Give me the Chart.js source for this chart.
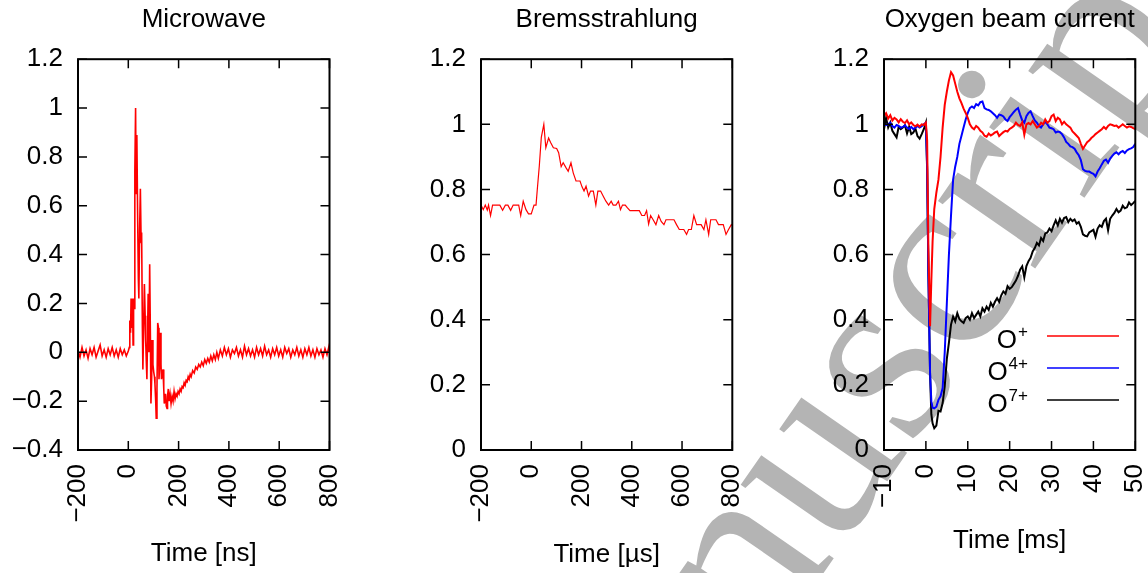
<!DOCTYPE html>
<html>
<head>
<meta charset="utf-8">
<script src="https://cdn.jsdelivr.net/npm/chart.js@4.4.1/dist/chart.umd.min.js"></script>
<style>
  html, body { margin: 0; padding: 0; overflow: hidden; background: #fff; }
  body { position: relative; width: 1148px; height: 573px; }
  canvas { position: absolute; top: 0; }
  #wm {
    position: absolute; left: -204px; top: 1673px;
    transform-origin: 0 0; transform: rotate(-55.2deg);
    font: 258px/1 "Liberation Serif", serif; color: #b4b4b4; white-space: nowrap;
  }
</style>
</head>
<body>
<div id="wm">Accepted Manuscript</div>
<canvas id="mw" width="383" height="573" style="left:0"></canvas>
<canvas id="br" width="383" height="573" style="left:400px"></canvas>
<canvas id="ox" width="348" height="573" style="left:800px"></canvas>
<script>
// Microwave signal (time in ns)
const mwTime = [
  -200,-192,-184,-176,-168,-160,-152,-144,-136,-128,-120,-112,-104,-96,-88,-80,-72,-64,-56,-48,-40,-32,-24,-16,-8,0,
  4,6,9,11,14,17,19,21,24,26,29,31,34,37,40,42,45,48,51,53,56,58,61,64,67,69,72,74,77,79,
  82,85,88,90,93,95,98,101,104,106,109,111,114,117,120,122,125,127,130,132,135,138,141,143,146,148,151,154,156,159,
  162,166,170,174,178,182,186,190,194,198,202,206,210,214,218,222,226,230,234,238,242,246,250,
  256,262,268,274,280,286,292,298,304,310,316,322,328,334,340,346,352,358,
  366,374,382,390,398,406,414,422,430,438,446,454,462,470,478,486,494,502,510,518,
  526,534,542,550,558,566,574,582,590,598,606,614,622,630,638,646,654,662,670,678,
  686,694,702,710,718,726,734,742,750,758,766,774,782,790,798,800
];
const mwValue = [
  0.01,-0.02,0.02,-0.015,0.01,-0.025,0.015,-0.01,0.02,-0.02,0.005,0.03,-0.015,0.01,-0.02,0.015,-0.01,0.02,-0.015,0.01,-0.02,0.015,-0.01,0.01,-0.015,0.005,
  0.02,0.13,0.08,0.22,0.1,0.22,0.03,0.22,0.18,0.74,1.0,0.65,0.89,0.57,0.3,0.22,0.5,0.67,0.45,0.49,0.1,-0.07,0.1,0.28,0.15,0.05,-0.05,-0.11,0.1,0.24,
  0.0,0.36,0.05,-0.21,-0.1,0.05,-0.05,-0.08,-0.1,-0.13,-0.2,-0.27,-0.15,0.12,0.1,-0.11,-0.05,0.08,-0.05,-0.11,-0.09,-0.07,-0.15,-0.21,-0.19,-0.17,-0.22,-0.23,-0.18,-0.15,
  -0.2,-0.17,-0.21,-0.18,-0.2,-0.16,-0.19,-0.17,-0.18,-0.16,-0.17,-0.15,-0.16,-0.14,-0.145,-0.125,-0.135,-0.115,-0.12,-0.1,-0.11,-0.09,-0.1,
  -0.075,-0.085,-0.06,-0.07,-0.05,-0.06,-0.04,-0.055,-0.03,-0.045,-0.025,-0.04,-0.015,-0.035,-0.01,-0.03,0.0,-0.025,
  0.01,-0.015,0.02,-0.01,0.015,-0.02,0.01,-0.005,0.02,-0.015,0.01,-0.02,0.025,-0.01,0.015,-0.015,0.01,-0.02,0.02,-0.01,
  0.015,-0.015,0.025,-0.01,0.01,-0.02,0.015,-0.01,0.02,-0.015,0.01,-0.02,0.02,-0.005,0.015,-0.02,0.01,-0.01,0.02,-0.015,
  0.01,-0.02,0.015,-0.01,0.02,-0.015,0.01,-0.02,0.015,-0.01,0.01,-0.02,0.015,-0.01,0.025,0.005
];

// Bremsstrahlung (time in µs)
const brTime = [
  -200,-191,-183,-175,-170,-162,-154,-125,-114,-103,-93,-82,-72,-50,-42,-32,-21,-11,0,11,
  19,24,32,40,50,58,69,77,88,101,109,119,127,138,147,158,167,178,194,202,
  210,218,228,236,247,257,265,276,286,297,308,318,326,337,347,355,363,374,382,393,
  406,419,430,440,451,459,467,475,485,496,507,517,528,536,546,568,578,589,607,618,
  626,637,647,658,676,687,695,706,714,735,745,764,775,785,796,800
];
const brValue = [
  0.752,0.738,0.752,0.737,0.752,0.72,0.752,0.752,0.736,0.752,0.752,0.736,0.752,0.752,0.72,0.764,0.738,0.725,0.725,0.752,
  0.752,0.8,0.872,0.96,1.0,0.928,0.958,0.944,0.928,0.926,0.913,0.87,0.882,0.867,0.856,0.882,0.851,0.826,0.826,0.808,
  0.795,0.81,0.78,0.795,0.795,0.752,0.795,0.795,0.78,0.764,0.752,0.764,0.752,0.752,0.764,0.738,0.752,0.752,0.744,0.735,
  0.735,0.735,0.735,0.72,0.72,0.735,0.694,0.72,0.707,0.692,0.72,0.702,0.692,0.707,0.707,0.707,0.692,0.677,0.677,0.662,
  0.677,0.677,0.72,0.692,0.692,0.677,0.707,0.662,0.707,0.707,0.692,0.692,0.662,0.677,0.692,0.69
];

// Oxygen beam current (time in ms)
const oxTime = [
  -10,-9.5,-9,-8.5,-8,-7.5,-7,-6.5,-6,-5.5,-5,-4.5,-4,-3.5,-3,-2.5,-2,-1.5,-1,-0.5,0,
  0.3,0.6,1,1.3,1.6,2,2.5,3,3.5,4,4.5,5,5.5,6,6.5,7,7.5,8,8.5,9,9.5,10,
  10.5,11,11.5,12,12.5,13,13.5,14,14.5,15,15.5,16,16.5,17,17.5,18,18.5,19,19.5,20,
  20.5,21,21.5,22,22.5,23,23.5,24,24.5,25,25.5,26,26.5,27,27.5,28,28.5,29,29.5,30,
  30.5,31,31.5,32,32.5,33,33.5,34,34.5,35,35.5,36,36.5,37,37.5,38,38.5,39,39.5,40,
  40.5,41,41.5,42,42.5,43,43.5,44,44.5,45,45.5,46,46.5,47,47.5,48,48.5,49,49.5,50
];
const oxPlus = [
  1.026,1.034,1.018,1.028,1.012,1.02,1.015,1.006,1.016,1.008,1.004,1.012,1.0,1.006,0.998,0.994,0.999,0.993,1.0,0.998,1.005,
  0.95,0.62,0.38,0.52,0.64,0.74,0.79,0.83,0.9,0.99,1.06,1.1,1.135,1.16,1.15,1.125,1.1,1.08,1.065,1.048,1.035,1.02,
  1.0,0.99,0.985,0.995,0.99,0.98,0.975,0.965,0.962,0.972,0.966,0.97,0.975,0.978,0.964,0.97,0.976,0.98,0.978,0.986,
  0.99,0.995,1.005,0.998,0.995,1.006,0.968,1.0,1.004,1.0,1.01,1.0,0.99,0.995,1.005,1.0,1.015,1.005,1.01,1.025,
  1.03,1.01,1.02,1.015,1.0,1.008,1.0,0.995,0.99,0.978,0.972,0.965,0.958,0.94,0.925,0.935,0.945,0.95,0.958,0.963,
  0.97,0.975,0.98,0.985,0.992,0.986,0.995,1.0,0.998,0.995,0.996,0.99,0.995,1.0,0.995,0.99,0.994,0.992,0.988,0.985
];
const ox4Plus = [
  1.0,0.998,1.0,1.005,0.995,0.99,0.998,0.995,0.99,0.992,0.997,0.99,0.986,0.992,0.985,0.99,0.995,0.99,0.994,1.0,1.005,
  0.87,0.54,0.236,0.15,0.13,0.128,0.133,0.154,0.165,0.19,0.3,0.45,0.6,0.72,0.83,0.87,0.9,0.94,0.965,0.99,1.015,1.035,
  1.05,1.055,1.05,1.062,1.058,1.068,1.07,1.05,1.046,1.044,1.04,1.034,1.028,1.02,1.03,1.028,1.024,1.015,1.01,1.022,
  1.03,1.038,1.045,1.05,1.03,1.012,1.005,1.025,1.035,1.04,1.025,1.012,1.005,0.995,0.99,1.0,1.008,1.0,0.99,0.988,
  0.985,0.975,0.978,0.976,0.97,0.96,0.946,0.94,0.932,0.93,0.925,0.914,0.905,0.89,0.862,0.857,0.855,0.855,0.851,0.848,
  0.84,0.855,0.865,0.877,0.888,0.892,0.882,0.895,0.903,0.91,0.914,0.908,0.915,0.918,0.912,0.92,0.924,0.926,0.93,0.94
];
const ox7Plus = [
  0.985,1.02,0.99,1.005,0.98,0.97,0.96,0.992,0.985,0.99,0.997,0.972,0.992,0.97,0.975,0.987,0.964,0.956,0.97,0.985,1.005,
  0.86,0.54,0.23,0.11,0.082,0.067,0.075,0.12,0.118,0.144,0.195,0.28,0.33,0.385,0.41,0.395,0.42,0.402,0.395,0.39,0.405,0.41,
  0.4,0.42,0.405,0.415,0.425,0.41,0.435,0.425,0.44,0.43,0.452,0.44,0.455,0.466,0.455,0.475,0.487,0.48,0.503,0.495,
  0.5,0.51,0.52,0.535,0.554,0.564,0.53,0.565,0.58,0.59,0.61,0.62,0.636,0.628,0.651,0.642,0.665,0.668,0.68,0.672,
  0.69,0.705,0.69,0.71,0.698,0.712,0.715,0.7,0.71,0.703,0.708,0.695,0.7,0.685,0.662,0.658,0.656,0.668,0.672,0.676,
  0.655,0.68,0.69,0.685,0.703,0.71,0.675,0.71,0.72,0.728,0.74,0.73,0.735,0.75,0.742,0.745,0.76,0.752,0.758,0.765
];

const ionBase = 'O';
const ionCharges = ['+', '4+', '7+'];
const ionColors = ['#ff0000', '#0000ff', '#000000'];

const FONT = '"Liberation Sans", Arial, sans-serif';
const minus = s => String(s).replace('-', '\u2212');
const pts = (xs, ys) => xs.map((x, i) => ({ x: x, y: ys[i] }));

// gnuplot-style frame with inward ticks on all four sides
const frameTicks = {
  id: 'frameTicks',
  afterDatasetsDraw(chart) {
    const { ctx, chartArea: a } = chart;
    const sx = chart.scales.x, sy = chart.scales.y;
    const len = 9;
    ctx.save();
    ctx.strokeStyle = '#000';
    ctx.lineWidth = 1.5;
    ctx.beginPath();
    sx.ticks.forEach(t => {
      const p = sx.getPixelForValue(t.value);
      ctx.moveTo(p, a.bottom); ctx.lineTo(p, a.bottom - len);
      ctx.moveTo(p, a.top); ctx.lineTo(p, a.top + len);
    });
    sy.ticks.forEach(t => {
      const p = sy.getPixelForValue(t.value);
      ctx.moveTo(a.left, p); ctx.lineTo(a.left + len, p);
      ctx.moveTo(a.right, p); ctx.lineTo(a.right - len, p);
    });
    ctx.stroke();
    ctx.lineWidth = 2;
    ctx.strokeRect(a.left, a.top, a.right - a.left, a.bottom - a.top);
    ctx.restore();
  }
};

// legend with superscript charges, drawn inside the oxygen panel
const ionLegend = {
  id: 'ionLegend',
  afterDatasetsDraw(chart) {
    const ctx = chart.ctx;
    const textRight = 228, lineFrom = 247, lineTo = 319;
    ctx.save();
    ionCharges.forEach((q, i) => {
      const base = 348 + i * 32;
      ctx.fillStyle = '#000';
      ctx.textAlign = 'right';
      ctx.textBaseline = 'alphabetic';
      ctx.font = '17px ' + FONT;
      const qw = ctx.measureText(q).width;
      ctx.fillText(q, textRight, base - 11);
      ctx.font = '26px ' + FONT;
      ctx.fillText(ionBase, textRight - qw - 1, base);
      ctx.strokeStyle = ionColors[i];
      ctx.lineWidth = 1.5;
      ctx.beginPath();
      ctx.moveTo(lineFrom, base - 12);
      ctx.lineTo(lineTo, base - 12);
      ctx.stroke();
    });
    ctx.restore();
  }
};

function panel(id, cfg) {
  const font = { family: FONT, size: 26 };
  return new Chart(document.getElementById(id), {
    type: 'line',
    data: { datasets: cfg.datasets },
    options: {
      responsive: false,
      animation: false,
      devicePixelRatio: 1,
      layout: { padding: { left: 0, right: cfg.padRight, top: 0, bottom: 0 } },
      elements: { point: { radius: 0 }, line: { tension: 0 } },
      plugins: {
        legend: { display: false },
        tooltip: { enabled: false },
        title: {
          display: true, text: cfg.title, fullSize: false, color: '#000',
          font: { family: FONT, size: 26, weight: 'normal' },
          padding: { top: 4, bottom: 24 }
        }
      },
      scales: {
        x: {
          type: 'linear', min: cfg.xMin, max: cfg.xMax,
          grid: { display: false, drawTicks: false },
          border: { display: false },
          ticks: {
            stepSize: cfg.xStep, autoSkip: false, minRotation: 90, maxRotation: 90,
            padding: 14, color: '#000', font: font, callback: v => minus(v)
          },
          title: { display: true, text: cfg.xTitle, color: '#000', font: font, padding: { top: 0, bottom: cfg.xTitlePad } },
          afterFit: s => { s.height = 123; s.paddingLeft = 0; s.paddingRight = 0; }
        },
        y: {
          min: cfg.yMin, max: 1.2,
          grid: { display: false, drawTicks: false },
          border: { display: false },
          ticks: {
            stepSize: 0.2, padding: 15, color: '#000', font: font,
            callback: v => minus(Math.round(v * 10) / 10)
          },
          afterFit: s => { s.width = cfg.yWidth; }
        }
      }
    },
    plugins: [frameTicks].concat(cfg.extra || [])
  });
}

panel('mw', {
  title: 'Microwave', xTitle: 'Time [ns]', xTitlePad: 4,
  xMin: -200, xMax: 800, xStep: 200, yMin: -0.4,
  yWidth: 78, padRight: 53.5,
  datasets: [{ data: pts(mwTime, mwValue), borderColor: '#ff0000', borderWidth: 1.6 }]
});

panel('br', {
  title: 'Bremsstrahlung', xTitle: 'Time [\u00b5s]', xTitlePad: 3,
  xMin: -200, xMax: 800, xStep: 200, yMin: 0,
  yWidth: 81, padRight: 50.7,
  datasets: [{ data: pts(brTime, brValue), borderColor: '#ff0000', borderWidth: 1.2 }]
});

panel('ox', {
  title: 'Oxygen beam current', xTitle: 'Time [ms]', xTitlePad: 17,
  xMin: -10, xMax: 50, xStep: 10, yMin: 0,
  yWidth: 84, padRight: 12.7,
  datasets: [
    { data: pts(oxTime, oxPlus), borderColor: ionColors[0], borderWidth: 2 },
    { data: pts(oxTime, ox4Plus), borderColor: ionColors[1], borderWidth: 2 },
    { data: pts(oxTime, ox7Plus), borderColor: ionColors[2], borderWidth: 2 }
  ],
  extra: [ionLegend]
});
</script>
</body>
</html>
